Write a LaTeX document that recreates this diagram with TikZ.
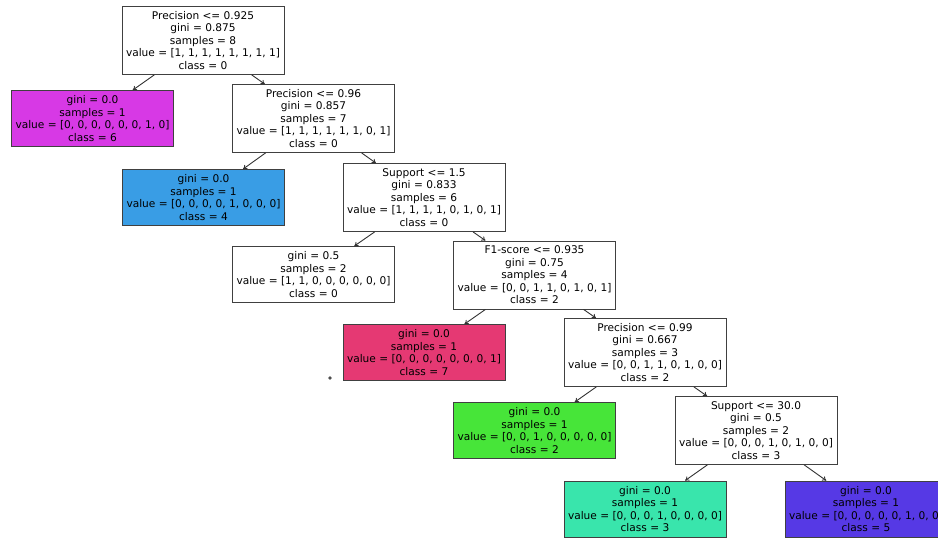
\documentclass[tikz,border=0pt]{standalone}
\usepackage{fontspec}
\setmainfont{DejaVu Sans}
\usetikzlibrary{arrows.meta}

\definecolor{clsmag}{HTML}{D739E5}
\definecolor{clsblue}{HTML}{399DE5}
\definecolor{clsred}{HTML}{E53973}
\definecolor{clsgreen}{HTML}{47E539}
\definecolor{clsteal}{HTML}{39E5AC}
\definecolor{clspurple}{HTML}{5639E5}

\tikzset{
  split/.style={draw=black!75, fill=white, line width=0.8pt, align=center,
    minimum width=162pt, minimum height=68pt, inner sep=2pt,
    font=\fontsize{10.6}{12.5}\selectfont},
  leaf/.style={split, minimum height=56pt},
  edge/.style={-{To[length=4pt,width=5pt]}, black!80, line width=0.9pt}
}

\begin{document}
\begin{tikzpicture}[x=1pt,y=-1pt]
\useasboundingbox (0,0) rectangle (938,538);
\clip (0,0) rectangle (938,538);
\node[split] (n0) at (203,40.5) {Precision <= 0.925\\gini = 0.875\\samples = 8\\value = [1, 1, 1, 1, 1, 1, 1, 1]\\class = 0};
\node[leaf, fill=clsmag] (n1) at (92.5,118.5) {gini = 0.0\\samples = 1\\value = [0, 0, 0, 0, 0, 0, 1, 0]\\class = 6};
\node[split] (n2) at (313.5,118.5) {Precision <= 0.96\\gini = 0.857\\samples = 7\\value = [1, 1, 1, 1, 1, 1, 0, 1]\\class = 0};
\node[leaf, fill=clsblue] (n3) at (203.5,197.5) {gini = 0.0\\samples = 1\\value = [0, 0, 0, 0, 1, 0, 0, 0]\\class = 4};
\node[split] (n4) at (424,197.5) {Support <= 1.5\\gini = 0.833\\samples = 6\\value = [1, 1, 1, 1, 0, 1, 0, 1]\\class = 0};
\node[leaf] (n5) at (313.5,274.5) {gini = 0.5\\samples = 2\\value = [1, 1, 0, 0, 0, 0, 0, 0]\\class = 0};
\node[split] (n6) at (534.5,275) {F1-score <= 0.935\\gini = 0.75\\samples = 4\\value = [0, 0, 1, 1, 0, 1, 0, 1]\\class = 2};
\node[leaf, fill=clsred] (n7) at (424,352.5) {gini = 0.0\\samples = 1\\value = [0, 0, 0, 0, 0, 0, 0, 1]\\class = 7};
\node[split] (n8) at (645,352.5) {Precision <= 0.99\\gini = 0.667\\samples = 3\\value = [0, 0, 1, 1, 0, 1, 0, 0]\\class = 2};
\node[leaf, fill=clsgreen] (n9) at (534.5,430.5) {gini = 0.0\\samples = 1\\value = [0, 0, 1, 0, 0, 0, 0, 0]\\class = 2};
\node[split] (n10) at (756,430.5) {Support <= 30.0\\gini = 0.5\\samples = 2\\value = [0, 0, 0, 1, 0, 1, 0, 0]\\class = 3};
\node[leaf, fill=clsteal] (n11) at (645,509) {gini = 0.0\\samples = 1\\value = [0, 0, 0, 1, 0, 0, 0, 0]\\class = 3};
\node[leaf, fill=clspurple] (n12) at (866,509) {gini = 0.0\\samples = 1\\value = [0, 0, 0, 0, 0, 1, 0, 0]\\class = 5};
% edges
\draw[edge] (n0) -- (n1);
\draw[edge] (n0) -- (n2);
\draw[edge] (n2) -- (n3);
\draw[edge] (n2) -- (n4);
\draw[edge] (n4) -- (n5);
\draw[edge] (n4) -- (n6);
\draw[edge] (n6) -- (n7);
\draw[edge] (n6) -- (n8);
\draw[edge] (n8) -- (n9);
\draw[edge] (n8) -- (n10);
\draw[edge] (n10) -- (n11);
\draw[edge] (n10) -- (n12);
\fill[black!70] (330,378) circle (1.8);
\end{tikzpicture}
\end{document}
